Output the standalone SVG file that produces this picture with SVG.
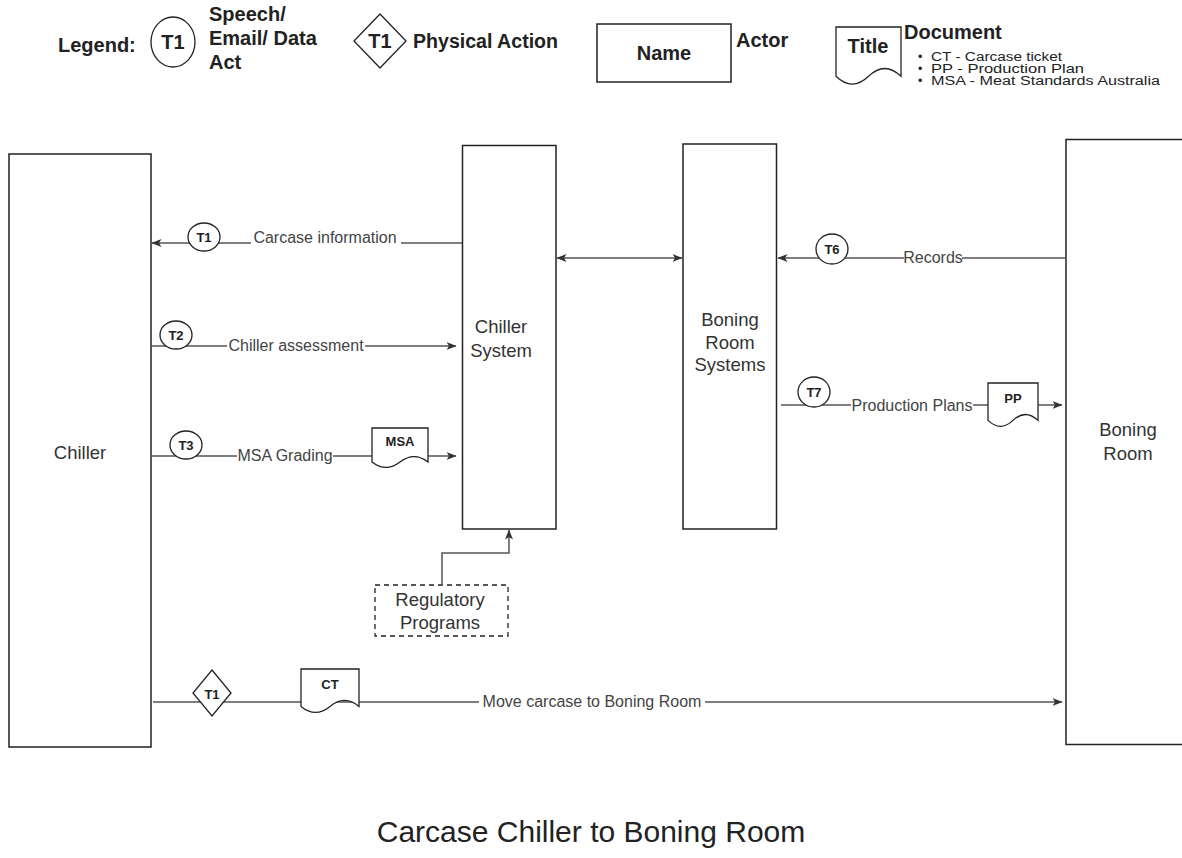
<svg xmlns="http://www.w3.org/2000/svg" width="1182" height="858" viewBox="0 0 1182 858">
<defs>
<marker id="arr" viewBox="0 0 10 8" refX="9.5" refY="4" markerWidth="10" markerHeight="8" markerUnits="userSpaceOnUse" orient="auto-start-reverse">
<path d="M0,0 L10,4 L0,8 L2.5,4 Z" fill="#333"/>
</marker>
<style>
.box{fill:#fff;stroke:#222;stroke-width:1.5}
.node{font-family:"Liberation Sans",Arial,sans-serif;font-size:18.5px;fill:#333;text-anchor:middle}
.lbl{font-family:"Liberation Sans",Arial,sans-serif;font-size:16px;fill:#444;text-anchor:middle}
.tag{font-family:"Liberation Sans",Arial,sans-serif;font-size:13px;font-weight:bold;fill:#222;text-anchor:middle}
.leg{font-family:"Liberation Sans",Arial,sans-serif;font-size:20px;font-weight:bold;fill:#222}
.small{font-family:"Liberation Sans",Arial,sans-serif;font-size:12.5px;fill:#222}
.line{fill:none;stroke:#555;stroke-width:1.5}
.sym{fill:#fff;stroke:#222;stroke-width:1.3}
.bg{fill:#fff}
</style>
</defs>
<rect width="1182" height="858" fill="#fff"/>

<g id="legend">
<text class="leg" x="58" y="52">Legend:</text>
<ellipse class="sym" cx="173" cy="42" rx="22" ry="25"/>
<text class="leg" x="173" y="49" text-anchor="middle" font-size="18">T1</text>
<text class="leg" x="209" y="21">Speech/</text>
<text class="leg" x="209" y="45">Email/ Data</text>
<text class="leg" x="209" y="69">Act</text>
<polygon class="sym" points="380,14 406,41 380,68 354,41"/>
<text class="leg" x="380" y="48" text-anchor="middle" font-size="18">T1</text>
<text class="leg" x="413" y="48" textLength="145" lengthAdjust="spacingAndGlyphs">Physical Action</text>
<rect class="box" x="597" y="24" width="134" height="58"/>
<text class="leg" x="664" y="60" text-anchor="middle" font-size="19">Name</text>
<text class="leg" x="736" y="47" font-size="19">Actor</text>
<path class="sym" d="M836,27 H901 V76.3 Q884.75,60.6 868.5,76.3 Q852.25,92 836,76.3 Z"/>
<text class="leg" x="868" y="53" text-anchor="middle" font-size="19">Title</text>
<text class="leg" x="904" y="39" font-size="18">Document</text>
<text class="small" x="918" y="61">•</text>
<text class="small" x="931" y="61" textLength="131" lengthAdjust="spacingAndGlyphs">CT - Carcase ticket</text>
<text class="small" x="918" y="73">•</text>
<text class="small" x="931" y="73" textLength="153" lengthAdjust="spacingAndGlyphs">PP - Production Plan</text>
<text class="small" x="918" y="85">•</text>
<text class="small" x="931" y="85" textLength="229" lengthAdjust="spacingAndGlyphs">MSA - Meat Standards Australia</text>
</g>

<g id="chiller">
<rect class="box" x="9" y="154" width="142" height="593"/>
<text class="node" x="80" y="459">Chiller</text>
</g>
<g id="chiller-system">
<rect class="box" x="462.5" y="145.5" width="93.5" height="383.5"/>
<text class="node" x="501" y="333" font-size="15.5">Chiller</text>
<text class="node" x="501" y="357" font-size="15.5">System</text>
</g>
<g id="boning-room-systems">
<rect class="box" x="683" y="144" width="93.5" height="385"/>
<text class="node" x="730" y="326">Boning</text>
<text class="node" x="730" y="349">Room</text>
<text class="node" x="730" y="371">Systems</text>
</g>
<g id="boning-room">
<rect class="box" x="1066" y="139.5" width="130" height="605"/>
<text class="node" x="1128" y="436">Boning</text>
<text class="node" x="1128" y="460">Room</text>
</g>
<g id="regulatory-programs">
<rect x="375" y="585" width="133" height="51" fill="#fff" stroke="#222" stroke-width="1.3" stroke-dasharray="5,4"/>
<text class="node" x="440" y="606">Regulatory</text>
<text class="node" x="440" y="629">Programs</text>
</g>

<g id="connectors">
<!-- T1 Carcase information -->
<line class="line" x1="462" y1="243" x2="152" y2="243" marker-end="url(#arr)"/>
<rect class="bg" x="251" y="230" width="150" height="14"/>
<text class="lbl" x="325" y="243">Carcase information</text>
<ellipse class="sym" cx="204" cy="237" rx="16" ry="14"/>
<text class="tag" x="204" y="242">T1</text>

<!-- T2 Chiller assessment -->
<line class="line" x1="151" y1="346" x2="456" y2="346" marker-end="url(#arr)"/>
<rect class="bg" x="227" y="338" width="138" height="14"/>
<text class="lbl" x="296" y="351">Chiller assessment</text>
<ellipse class="sym" cx="176" cy="335" rx="16" ry="14"/>
<text class="tag" x="176" y="340">T2</text>

<!-- T3 MSA Grading -->
<line class="line" x1="151" y1="456" x2="456" y2="456" marker-end="url(#arr)"/>
<rect class="bg" x="237" y="448" width="96" height="14"/>
<text class="lbl" x="285" y="461">MSA Grading</text>
<ellipse class="sym" cx="186" cy="445" rx="16" ry="14"/>
<text class="tag" x="186" y="450">T3</text>
<path class="sym" d="M372,428 H428 V462 Q414,451.2 400,462 Q386,472.8 372,462 Z"/>
<text class="tag" x="400" y="446">MSA</text>

<!-- Chiller System <-> Boning Room Systems -->
<line class="line" x1="557" y1="258" x2="682" y2="258" marker-start="url(#arr)" marker-end="url(#arr)"/>

<!-- T6 Records -->
<line class="line" x1="1066" y1="258" x2="778" y2="258" marker-end="url(#arr)"/>
<rect class="bg" x="904" y="250" width="58" height="14"/>
<text class="lbl" x="933" y="263">Records</text>
<ellipse class="sym" cx="832" cy="249" rx="16" ry="15"/>
<text class="tag" x="832" y="254">T6</text>

<!-- T7 Production Plans -->
<line class="line" x1="781" y1="405" x2="1062" y2="405" marker-end="url(#arr)"/>
<rect class="bg" x="851" y="398" width="122" height="14"/>
<text class="lbl" x="912" y="411">Production Plans</text>
<ellipse class="sym" cx="814" cy="392" rx="16" ry="15"/>
<text class="tag" x="814" y="397">T7</text>
<path class="sym" d="M988,383 H1038 V420.4 Q1025.5,408.5 1013,420.4 Q1000.5,432.3 988,420.4 Z"/>
<text class="tag" x="1013" y="403">PP</text>

<!-- Regulatory -> Chiller System -->
<polyline class="line" points="442,585 442,553 509,553 509,530" marker-end="url(#arr)"/>

<!-- T1 Move carcase -->
<line class="line" x1="153" y1="702" x2="1062" y2="702" marker-end="url(#arr)"/>
<rect class="bg" x="479" y="695" width="226" height="14"/>
<text class="lbl" x="592" y="707">Move carcase to Boning Room</text>
<polygon class="sym" points="212,670 231,693 212,716 193,693"/>
<text class="tag" x="212" y="699" font-size="15">T1</text>
<path class="sym" d="M301,669 H359 V706.4 Q344.5,694.5 330,706.4 Q315.5,718.3 301,706.4 Z"/>
<text class="tag" x="330" y="689">CT</text>
</g>

<text x="591" y="842" font-family="'Liberation Sans',Arial,sans-serif" font-size="30" fill="#222" text-anchor="middle">Carcase Chiller to Boning Room</text>
</svg>
